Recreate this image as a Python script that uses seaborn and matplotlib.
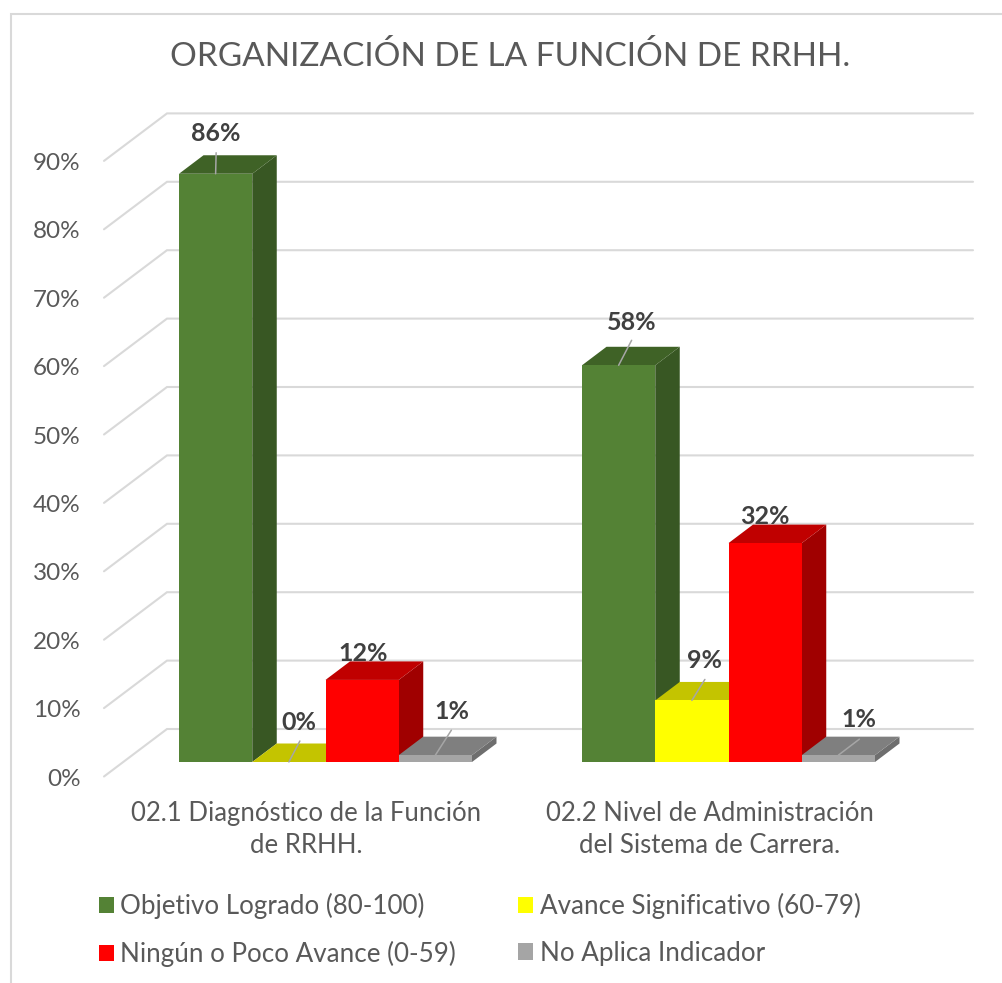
import pandas as pd
import seaborn as sns
from matplotlib import pyplot as plt
from matplotlib.lines import Line2D
from matplotlib.patches import Polygon
from matplotlib.transforms import Affine2D

categorias = ['02.1 Diagnóstico de la Función\nde RRHH.', '02.2 Nivel de Administración\ndel Sistema de Carrera.']
series = ['Objetivo Logrado (80-100)', 'Avance Significativo (60-79)', 'Ningún o Poco Avance (0-59)', 'No Aplica Indicador']
objetivo = [86, 58]
avance = [0, 9]
ninguno = [12, 32]
no_aplica = [1, 1]
y_ticks = [0, 10, 20, 30, 40, 50, 60, 70, 80, 90]

# colores: frente, cara de arriba, cara lateral
frente = ['#548235', '#ffff00', '#ff0000', '#a5a5a5']
arriba = ['#3f6226', '#c4c400', '#c00000', '#7f7f7f']
lado = ['#385723', '#a0a000', '#a00000', '#6e6e6e']

# ajustes de las etiquetas en pixeles, en orden de izquierda a derecha
label_off = [(0, 40), (10, 39), (1, 26), (17, 44), (13, 43), (13, 40), (0, 27), (21, 36)]
leader_off = [(0.5, 21), (11, 21), None, (16, 25), (13, 25), (13, 21), None, (21, 16)]

W, H = 1003, 983
PX_X = 403.0
PX_Y = 6.84
DEPTH_X, DEPTH_Y = 24.5 / PX_X, 18.5 / PX_Y

sns.set_style('white')
plt.rcParams['font.family'] = ['Lato', 'DejaVu Sans']

filas = []
for s, vals in zip(series, [objetivo, avance, ninguno, no_aplica]):
    for c, v in zip(categorias, vals):
        filas.append({'categoria': c, 'serie': s, 'valor': v})
df = pd.DataFrame(filas)

fig = plt.figure(figsize=(W / 100, H / 100), dpi=100)
ax = fig.add_axes([104 / W, (H - 762) / H, 869 / W, 649 / H])

sns.barplot(data=df, x='categoria', y='valor', hue='serie', hue_order=series, order=categorias,
            palette=frente, saturation=1, width=0.727, gap=0, ax=ax, zorder=3, linewidth=0)

x0, x1 = (104 - 325.5) / PX_X, (973 - 325.5) / PX_X
ax.set_xlim(x0, x1)
ax.set_ylim(0, 649 / PX_Y)
ax.set_xlabel('')
ax.set_ylabel('')
sns.despine(ax=ax, left=True, bottom=True)

# lineas de la pared y el piso
for v in y_ticks:
    ax.plot([x0, x0 + 63 / PX_X, x1], [v - 14.5 / PX_Y, v + 33 / PX_Y, v + 33 / PX_Y],
            color='#d9d9d9', lw=1.5, zorder=1, clip_on=False, solid_joinstyle='miter')

# caras 3D sacadas de cada barra
barras = sorted([p for p in ax.patches if p.get_width() > 0], key=lambda p: p.get_x())
for i, p in enumerate(barras):
    n = i % 4
    xa, xb, h = p.get_x(), p.get_x() + p.get_width(), p.get_height()
    z = 3 + i * 0.1
    p.set_zorder(z + 0.02)
    ax.add_patch(Polygon([(xb, 0), (xb + DEPTH_X, DEPTH_Y), (xb + DEPTH_X, h + DEPTH_Y), (xb, h)],
                         facecolor=lado[n], edgecolor='none', zorder=z, clip_on=False))
    ax.add_patch(Polygon([(xa, h), (xb, h), (xb + DEPTH_X, h + DEPTH_Y), (xa + DEPTH_X, h + DEPTH_Y)],
                         facecolor=arriba[n], edgecolor='none', zorder=z + 0.01, clip_on=False))
    cx = xa + p.get_width() / 2
    if leader_off[i] is not None:
        ax.plot([cx, cx + leader_off[i][0] / PX_X], [h, h + leader_off[i][1] / PX_Y],
                color='#a6a6a6', lw=1.1, zorder=6, clip_on=False)
    ax.text(cx + label_off[i][0] / PX_X, h + label_off[i][1] / PX_Y, '%d%%' % h,
            ha='center', va='center', fontsize=18, fontweight='bold', color='#404040', zorder=7)

ax.set_yticks(y_ticks)
ax.set_yticklabels(['%d%%' % v for v in y_ticks])
ax.tick_params(axis='y', length=0, pad=17, labelsize=17.5, labelcolor='#595959')
ax.tick_params(axis='x', length=0, pad=28, labelsize=18.5, labelcolor='#595959')
for lab in ax.get_yticklabels():
    lab.set_transform(lab.get_transform() + Affine2D().translate(0, -15))
for lab in ax.get_xticklabels():
    lab.set_transform(lab.get_transform() + Affine2D().translate(-19, 0))
    lab.set_linespacing(1.37)

# leyenda por filas, matplotlib llena por columnas
handles, labels = ax.get_legend_handles_labels()
orden = [0, 2, 1, 3]
ax.legend_.remove()
ax.legend([handles[k] for k in orden], [labels[k] for k in orden], loc='upper left',
          bbox_to_anchor=(99 / W, 1 - 893 / H), bbox_transform=fig.transFigure,
          ncol=2, frameon=False, fontsize=18.7, labelcolor='#595959',
          handlelength=0.58, handleheight=0.58, handletextpad=0.24, columnspacing=2.4,
          labelspacing=0.83, borderpad=0, borderaxespad=0)
fig.suptitle('ORGANIZACIÓN DE LA FUNCIÓN DE RRHH.', x=510 / W, y=1 - 56 / H, va='center',
             fontsize=24, color='#595959')

# borde del grafico
fig.add_artist(Line2D([11 / W, 11 / W, 1], [0, 1 - 14 / H, 1 - 14 / H], color='#d9d9d9', lw=1.5,
                      solid_joinstyle='miter'))

fig.savefig('out.png', dpi=100)
